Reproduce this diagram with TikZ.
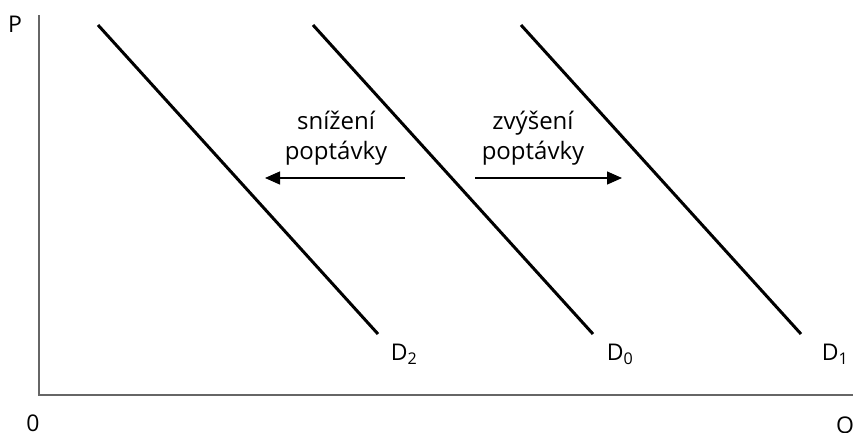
\documentclass[tikz,border=0pt]{standalone}
\usepackage{fontspec}
\setmainfont{Open Sans}
\usetikzlibrary{arrows.meta}
\begin{document}
\begin{tikzpicture}[x=1pt,y=-1pt,
  axis/.style={draw=black!60,line width=2pt},
  demand/.style={draw=black,line width=3pt},
  shiftarrow/.style={draw=black,line width=1.3pt,-{Triangle[length=15pt,width=13pt]}},
  lbl/.style={font=\fontsize{23}{26}\selectfont,inner sep=0pt},
  txt/.style={font=\fontsize{24}{30}\selectfont,align=center,inner sep=0pt}]
\useasboundingbox (0,0) rectangle (853,432);
% axes
\coordinate (top) at (39,15);
\coordinate (origin) at (39,395);
\coordinate (right) at (853,395);
\draw[axis] (top) -- (origin) -- (right);
\node[lbl] (P) at (15,24) {P};
\node[lbl] (O) at (33,423) {0};
\node[lbl,anchor=north west] (Q) at (836,417) {Q};
% demand curves
\coordinate (d2a) at (98,25);  \coordinate (d2b) at (378,334);
\coordinate (d0a) at (313,25); \coordinate (d0b) at (593,334);
\coordinate (d1a) at (521,25); \coordinate (d1b) at (801,334);
\draw[demand] (d2a) -- (d2b);
\draw[demand] (d0a) -- (d0b);
\draw[demand] (d1a) -- (d1b);
\node[lbl] (D2) at (404,354) {D\textsubscript{2}};
\node[lbl] (D0) at (620,354) {D\textsubscript{0}};
\node[lbl] (D1) at (835,354) {D\textsubscript{1}};
% shifts
\node[txt] (dec) at (336,138) {snížení\\poptávky};
\node[txt] (inc) at (533,138) {zvýšení\\poptávky};
\coordinate (decS) at (405,178); \coordinate (decE) at (265,178);
\coordinate (incS) at (475,178); \coordinate (incE) at (622,178);
\draw[shiftarrow] (decS) -- (decE);
\draw[shiftarrow] (incS) -- (incE);
\end{tikzpicture}
\end{document}
